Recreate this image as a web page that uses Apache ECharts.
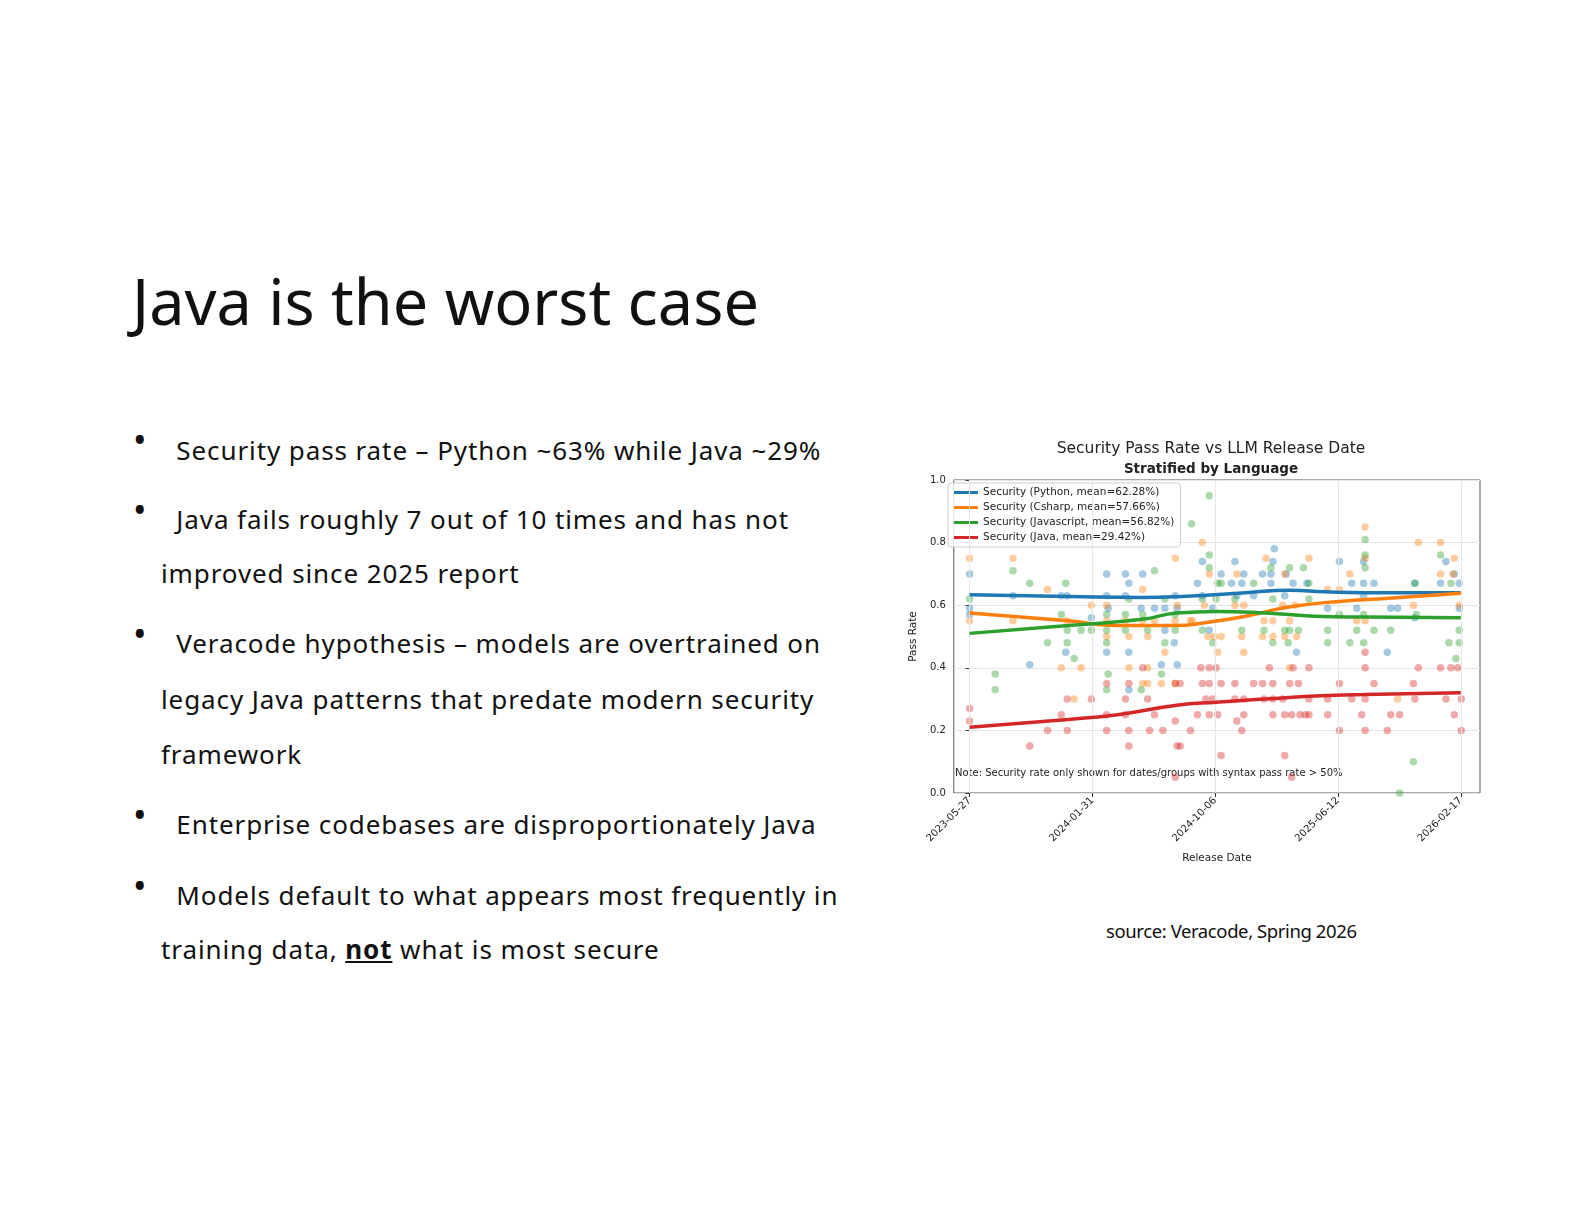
<!DOCTYPE html>
<html>
<head>
<meta charset="utf-8">
<script src="https://cdn.jsdelivr.net/npm/echarts@6/dist/echarts.min.js"></script>
<style>
  body { margin: 0; width: 1584px; height: 1224px; background: #fff; position: relative; font-family: "Noto Sans", sans-serif; color: #111; }
  #title { position: absolute; left: 132px; top: 258px; font-size: 63px; letter-spacing: 0px; }
  .b { position: absolute; left: 161px; font-size: 26px; letter-spacing: 0.9px; }
  .dot { position: absolute; left: 133px; font-size: 36px; line-height: 1; }
  #chart { position: absolute; left: 900px; top: 430px; width: 590px; height: 440px; }
  #src { position: absolute; left: 1106px; top: 918px; font-size: 18.5px; letter-spacing: -0.4px; }
</style>
</head>
<body>
<div id="title">Java is the worst case</div>
<div class="dot" style="top:422px">•</div>
<div class="b" style="top:432px">&nbsp;&nbsp;Security pass rate – Python ~63% while Java ~29%</div>
<div class="dot" style="top:492px">•</div>
<div class="b" style="top:501px">&nbsp;&nbsp;Java fails roughly 7 out of 10 times and has not</div>
<div class="b" style="top:555px">improved since 2025 report</div>
<div class="dot" style="top:616px">•</div>
<div class="b" style="top:625px">&nbsp;&nbsp;Veracode hypothesis – models are overtrained on</div>
<div class="b" style="top:681px">legacy Java patterns that predate modern security</div>
<div class="b" style="top:736px">framework</div>
<div class="dot" style="top:797px">•</div>
<div class="b" style="top:806px">&nbsp;&nbsp;Enterprise codebases are disproportionately Java</div>
<div class="dot" style="top:868px">•</div>
<div class="b" style="top:877px">&nbsp;&nbsp;Models default to what appears most frequently in</div>
<div class="b" style="top:931px">training data, <b><u>not</u></b> what is most secure</div>
<div id="chart"></div>
<div id="src">source: Veracode, Spring 2026</div>
<script>
// x values are days after 2023-05-27
var tickDays = [0, 249, 498, 747, 996];
var tickLabels = ['2023-05-27', '2024-01-31', '2024-10-06', '2025-06-12', '2026-02-17'];

var pythonPts = [[0,0.70],[0,0.59],[0,0.57],[88,0.63],[122,0.41],[186,0.63],[195,0.45],[198,0.63],[247,0.56],[278,0.70],[278,0.63],[281,0.59],[278,0.45],[316,0.70],[323,0.67],[316,0.63],[323,0.45],[323,0.33],[351,0.70],[348,0.59],[375,0.59],[389,0.41],[396,0.59],[396,0.52],[417,0.63],[421,0.59],[415,0.48],[421,0.41],
  [462,0.67],[472,0.63],[472,0.74],[486,0.52],[493,0.59],[510,0.70],[531,0.67],[538,0.74],[542,0.63],[556,0.70],[552,0.67],[576,0.63],[594,0.70],[611,0.70],[611,0.67],[618,0.78],[615,0.74],[639,0.63],[642,0.70],[656,0.67],[663,0.45],[684,0.67],[726,0.59],[750,0.74],[775,0.67],[785,0.59],[799,0.74],[799,0.67],[799,0.63],[820,0.67],[847,0.45],[854,0.59],[868,0.59],[903,0.56],[903,0.67],[955,0.67],[966,0.74],[983,0.70],[993,0.67],[993,0.59]];
var csharpPts = [[0,0.75],[0,0.55],[88,0.75],[88,0.55],[158,0.65],[186,0.40],[198,0.55],[212,0.30],[226,0.40],[247,0.60],[278,0.60],[278,0.55],[278,0.50],[316,0.55],[323,0.50],[323,0.40],[351,0.65],[351,0.55],[361,0.50],[361,0.40],[351,0.35],[361,0.35],[375,0.55],[389,0.35],[396,0.45],[417,0.75],[421,0.60],[417,0.55],[417,0.35],[448,0.55],
  [472,0.80],[476,0.60],[486,0.70],[483,0.50],[496,0.50],[510,0.50],[503,0.45],[451,0.55],[542,0.70],[538,0.60],[556,0.60],[552,0.50],[556,0.45],[594,0.50],[597,0.55],[601,0.75],[615,0.55],[615,0.50],[635,0.60],[639,0.50],[639,0.70],[649,0.55],[663,0.50],[660,0.60],[649,0.40],[688,0.75],[726,0.65],[750,0.65],[771,0.70],[785,0.55],[802,0.85],[802,0.75],[802,0.55],[868,0.30],[900,0.60],[910,0.80],[955,0.80],[955,0.70],[980,0.70],[983,0.75],[993,0.60]];
var jsPts = [[0,0.62],[52,0.38],[52,0.33],[88,0.71],[122,0.67],[158,0.48],[186,0.57],[195,0.67],[198,0.52],[198,0.48],[212,0.43],[226,0.52],[247,0.52],[278,0.57],[278,0.52],[278,0.48],[281,0.38],[278,0.33],[316,0.57],[323,0.62],[316,0.52],[351,0.57],[361,0.52],[348,0.33],[375,0.71],[389,0.38],[396,0.62],[396,0.48],[417,0.57],[417,0.52],
  [450,0.86],[486,0.95],[486,0.76],[486,0.72],[472,0.62],[503,0.67],[510,0.67],[500,0.62],[493,0.48],[472,0.52],[538,0.62],[552,0.52],[576,0.67],[597,0.52],[611,0.72],[615,0.62],[615,0.48],[639,0.52],[649,0.72],[649,0.52],[646,0.48],[667,0.52],[677,0.72],[688,0.67],[688,0.62],[726,0.52],[726,0.48],[750,0.57],[771,0.48],[785,0.52],[802,0.81],[802,0.76],[802,0.72],[799,0.57],[799,0.48],[820,0.52],[854,0.52],[872,0.0],[900,0.10],[903,0.67],[906,0.57],[955,0.76],[976,0.67],[972,0.48],[986,0.43],[993,0.52],[993,0.48]];
var javaPts = [[0,0.27],[0,0.23],[122,0.15],[158,0.20],[186,0.25],[198,0.30],[198,0.20],[247,0.30],[278,0.35],[278,0.25],[278,0.20],[316,0.30],[316,0.25],[323,0.35],[323,0.20],[323,0.15],[351,0.40],[361,0.30],[365,0.20],[375,0.25],[392,0.20],[417,0.35],[417,0.23],[421,0.15],[417,0.05],[448,0.20],
  [427,0.35],[427,0.15],[462,0.25],[469,0.40],[486,0.40],[500,0.40],[472,0.35],[486,0.35],[510,0.35],[479,0.30],[493,0.30],[486,0.25],[503,0.25],[510,0.12],[538,0.35],[538,0.30],[542,0.23],[556,0.30],[556,0.25],[552,0.20],[576,0.35],[594,0.35],[597,0.30],[608,0.40],[615,0.35],[615,0.30],[615,0.25],[635,0.30],[639,0.25],[639,0.12],[649,0.35],[653,0.25],[656,0.40],[667,0.35],[670,0.25],[681,0.25],[688,0.40],[688,0.30],[688,0.25],[653,0.05],[726,0.30],[726,0.25],[750,0.35],[750,0.20],[775,0.30],[795,0.25],[802,0.45],[802,0.40],[802,0.30],[802,0.20],[820,0.35],[847,0.20],[854,0.25],[872,0.25],[900,0.35],[903,0.30],[910,0.40],[955,0.40],[966,0.30],[976,0.40],[983,0.25],[990,0.40],[997,0.30],[997,0.20]];

var pythonTrend = [[0,0.633],[200,0.628],[350,0.625],[420,0.627],[480,0.632],[560,0.64],[650,0.648],[720,0.643],[800,0.64],[996,0.64]];
var csharpTrend = [[0,0.575],[200,0.55],[300,0.535],[420,0.535],[480,0.545],[560,0.565],[650,0.595],[750,0.612],[850,0.622],[996,0.638]];
var jsTrend = [[0,0.51],[200,0.535],[350,0.555],[420,0.575],[500,0.58],[600,0.575],[700,0.565],[800,0.562],[996,0.56]];
var javaTrend = [[0,0.21],[200,0.235],[300,0.25],[420,0.28],[500,0.29],[600,0.30],[700,0.31],[800,0.315],[996,0.32]];

var names = ['Security (Python, mean=62.28%)', 'Security (Csharp, mean=57.66%)', 'Security (Javascript, mean=56.82%)', 'Security (Java, mean=29.42%)'];
var colors = ['#1f77b4', '#ff7f0e', '#2ca02c', '#d62728'];
var pts = [pythonPts, csharpPts, jsPts, javaPts];
var trends = [pythonTrend, csharpTrend, jsTrend, javaTrend];

var series = [];
pts.forEach(function (p, i) {
    series.push({ name: 'pts' + i, type: 'scatter', data: p, symbolSize: 7.5,
        itemStyle: { color: colors[i], opacity: 0.4 }, z: 2,
        markLine: i === 0 ? { silent: true, symbol: 'none', label: { show: false },
            lineStyle: { color: '#e6e6e6', type: 'solid', width: 1 },
            data: tickDays.map(function (d) { return { xAxis: d }; }) } : undefined });
});
trends.forEach(function (t, i) {
    series.push({ name: names[i], type: 'line', data: t, smooth: true, showSymbol: false,
        lineStyle: { color: colors[i], width: 3.5 }, itemStyle: { color: colors[i] }, z: 5 });
});

var chart = echarts.init(document.getElementById('chart'));
chart.setOption({
    animation: false,
    title: [
        { text: 'Security Pass Rate vs LLM Release Date', left: 306, top: 6, textAlign: 'center',
          textStyle: { fontSize: 15.5, fontWeight: 'normal', color: '#222', fontFamily: 'DejaVu Sans' } },
        { text: 'Stratified by Language', left: 306, top: 27, textAlign: 'center',
          textStyle: { fontSize: 13.5, fontWeight: 'bold', color: '#222', fontFamily: 'DejaVu Sans' } }
    ],
    grid: { left: 45, right: 10, top: 50, bottom: 77, show: true, borderColor: '#555', borderWidth: 1 },
    legend: { data: names, orient: 'vertical', left: 48, top: 53, itemGap: 4, itemWidth: 24, itemHeight: 3,
        icon: 'rect', padding: [4, 6], backgroundColor: 'rgba(255,255,255,0.8)', borderColor: '#ccc', borderWidth: 1, borderRadius: 3,
        textStyle: { fontSize: 10.5, color: '#222', fontFamily: 'DejaVu Sans' } },
    xAxis: { type: 'value', min: -32, max: 1035, name: 'Release Date', nameLocation: 'middle', nameGap: 60,
        nameTextStyle: { fontSize: 10.5, color: '#222', fontFamily: 'DejaVu Sans' },
        axisLine: { show: false }, splitLine: { show: false },
        axisTick: { show: true, customValues: tickDays, length: 4, lineStyle: { color: '#333' } },
        axisLabel: { customValues: tickDays, rotate: 45, fontSize: 10, margin: 6, color: '#222', fontFamily: 'DejaVu Sans',
            formatter: function (v) { return tickLabels[tickDays.indexOf(v)] || ''; } } },
    yAxis: { type: 'value', min: 0, max: 1, interval: 0.2, name: 'Pass Rate', nameLocation: 'middle', nameGap: 30,
        nameTextStyle: { fontSize: 10.5, color: '#222', fontFamily: 'DejaVu Sans' },
        axisLine: { show: false }, axisTick: { show: true, length: 4, lineStyle: { color: '#333' } },
        splitLine: { lineStyle: { color: '#e6e6e6' } },
        axisLabel: { fontSize: 10, color: '#222', fontFamily: 'DejaVu Sans', formatter: function (v) { return v.toFixed(1); } } },
    graphic: [{ type: 'text', left: 55, top: 338, style: { text: 'Note: Security rate only shown for dates/groups with syntax pass rate > 50%',
        fontSize: 10, fill: '#222', fontFamily: 'DejaVu Sans' } }],
    series: series
});
</script>
</body>
</html>
